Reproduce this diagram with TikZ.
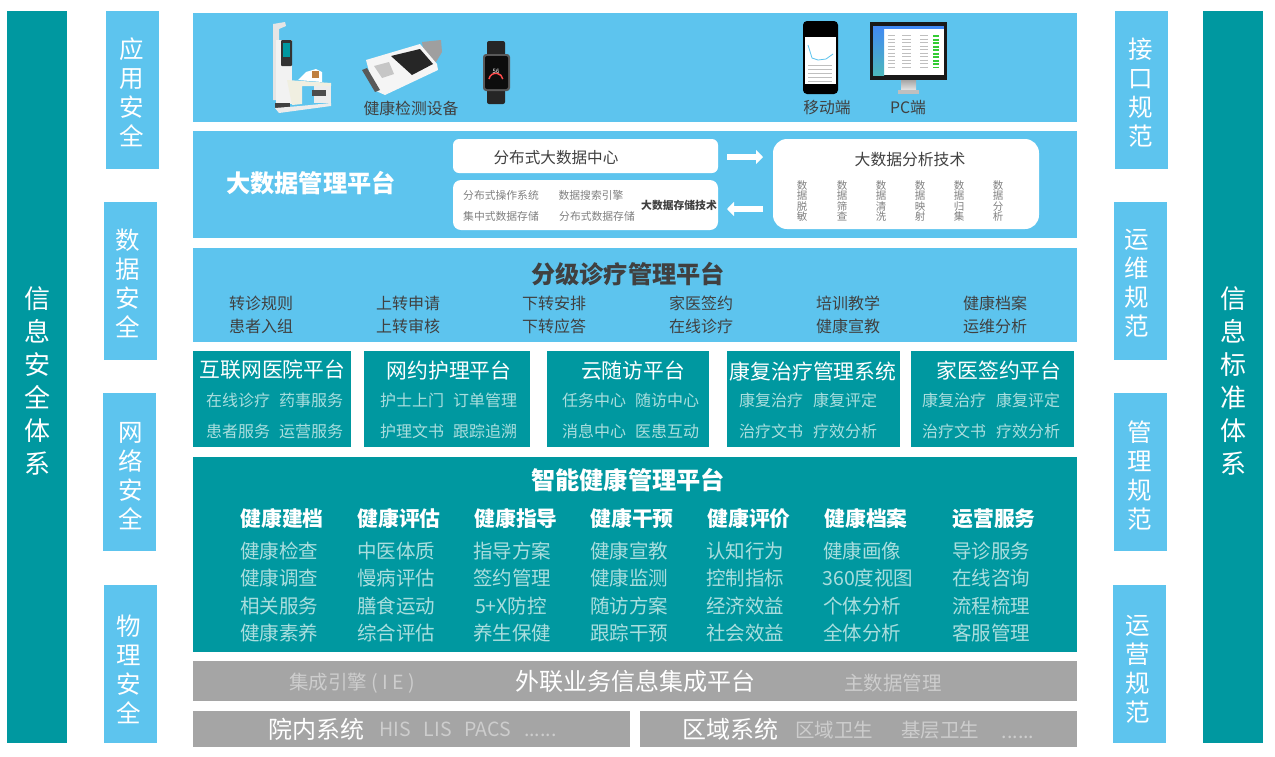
\documentclass[tikz,border=0pt]{standalone}
\usepackage{fontspec}
\setmainfont{Noto Sans CJK SC}
\usepackage{xcolor}
\usetikzlibrary{arrows.meta}
\definecolor{skycolor}{RGB}{93,196,238}
\definecolor{tealcolor}{RGB}{0,152,160}
\definecolor{greycolor}{RGB}{165,165,165}
\definecolor{inkcolor}{RGB}{64,64,64}
\definecolor{palecolor}{RGB}{170,222,222}
\definecolor{fadecolor}{RGB}{205,205,205}
\newcommand{\px}[1]{\fontsize{#1}{#1}\selectfont}

\begin{document}
\begin{tikzpicture}[
    x=1pt,
    y=-1pt,
    band/.style={inner sep=0pt, outer sep=0pt, text=white},
    skyband/.style={band, fill=skycolor},
    tealband/.style={band, fill=tealcolor},
    greyband/.style={band, fill=greycolor},
    sidecol/.style={tealband, minimum width=60pt, minimum height=732pt},
    sidetext/.style={inner sep=0pt, text=white, align=center, font=\fontsize{26}{33}\selectfont},
    guard/.style={skyband, minimum width=53pt, minimum height=158pt},
    guardtext/.style={inner sep=0pt, text=white, align=center, font=\fontsize{24.5}{29}\selectfont},
    whitebox/.style={fill=white, inner sep=0pt, outer sep=0pt},
    maintitle/.style={inner sep=0pt, text=white, font=\px{24.2}\bfseries},
    skytitle/.style={inner sep=0pt, text=inkcolor, font=\px{24.2}\bfseries},
    skyitem/.style={inner sep=0pt, text=inkcolor, font=\px{16}},
    devlabel/.style={inner sep=0pt, text=inkcolor, font=\px{15.8}},
    smalltitle/.style={inner sep=0pt, text=white, font=\px{20.8}},
    smallitem/.style={inner sep=0pt, text=palecolor, font=\px{16}},
    gridhead/.style={inner sep=0pt, text=white, font=\px{20.8}\bfseries},
    griditem/.style={inner sep=0pt, text=palecolor, font=\px{19.5}},
    storeitem/.style={inner sep=0pt, text=gray, font=\px{10.8}},
    stepitem/.style={inner sep=0pt, text=gray, align=center, font=\fontsize{10.5}{10.5}\selectfont},
    greytitle/.style={inner sep=0pt, text=white, font=\px{24}},
    greyitem/.style={inner sep=0pt, text=fadecolor, font=\px{19.5}},
    flowarrow/.style={draw=white, line width=6pt, -{Triangle[length=7pt, width=14pt]}}
]
    \useasboundingbox (0,0) rectangle (1275,756);

    % Outer columns
    \node[sidecol] (secsys) at (37,377) {};
    \node[sidetext] (secsystext) at (37,381) {信\\息\\安\\全\\体\\系};
    \node[sidecol] (stdsys) at (1233,377) {};
    \node[sidetext] (stdsystext) at (1233,381) {信\\息\\标\\准\\体\\系};

    % Security columns
    \node[guard] (appsec) at (132,89.5) {};
    \node[guardtext] (appsectext) at (132,92.5) {应\\用\\安\\全};
    \node[guard] (datasec) at (130.5,281) {};
    \node[guardtext] (datasectext) at (128,283.5) {数\\据\\安\\全};
    \node[guard] (netsec) at (129.5,472) {};
    \node[guardtext] (netsectext) at (131,476) {网\\络\\安\\全};
    \node[guard] (physec) at (130.5,664) {};
    \node[guardtext] (physectext) at (129,669) {物\\理\\安\\全};

    % Norm columns
    \node[guard] (ifnorm) at (1141.5,89.5) {};
    \node[guardtext] (ifnormtext) at (1141,92.5) {接\\口\\规\\范};
    \node[guard] (opnorm) at (1140,281) {};
    \node[guardtext] (opnormtext) at (1137,283.5) {运\\维\\规\\范};
    \node[guard] (mgnorm) at (1140,472) {};
    \node[guardtext] (mgnormtext) at (1140,476) {管\\理\\规\\范};
    \node[guard] (runnorm) at (1139.5,664) {};
    \node[guardtext] (runnormtext) at (1138,669) {运\\营\\规\\范};

    % Device layer
    \node[skyband, minimum width=884pt, minimum height=109pt] (device) at (635,67.5) {};
    \node[devlabel] (devtext) at (411,108) {健康检测设备};
    \node[devlabel] (mobtext) at (827,108) {移动端};
    \node[devlabel] (pctext) at (908,108) {PC端};

    % Kiosk
    \fill[gray!20] (273,24) -- (285,22) -- (286,26) -- (279,29) -- (279,100) -- (273,100) -- cycle;
    \fill[gray!10] (276,40) rectangle (292,104);
    \fill[black!80, rounded corners=1pt] (281,40) rectangle (292,66);
    \fill[tealcolor] (283,43) rectangle (290,57);
    \fill[white] (298,80) -- (306,72) -- (316,69) -- (322,72) -- (322,82) -- cycle;
    \fill[orange!50!gray] (312,71) rectangle (319,78);
    \fill[yellow!30!gray!20] (287,80) -- (331,83) -- (331,86) -- (302,86) -- (302,104) -- (292,105) -- cycle;
    \fill[gray!15] (314,86) rectangle (331,103);
    \fill[gray!60!black] (312,90) rectangle (326,96);
    \fill[black!75] (275,103) rectangle (290,108);
    \fill[gray!15] (275,108) -- (300,106) -- (331,103) -- (331,106) -- (279,113) -- cycle;

    % Monitor device
    \fill[gray!75] (422,42) -- (441,40) -- (442,52) -- (436,62) -- (425,60) -- cycle;
    \fill[gray!8] (366,60) -- (420,44) -- (437,64) -- (438,70) -- (385,95) -- (374,90) -- cycle;
    \fill[black!85] (391,56) -- (420,49) -- (433,64) -- (412,75) -- cycle;
    \fill[gray!45] (374,66) -- (389,62) -- (394,74) -- (382,78) -- cycle;
    \fill[black!65] (362,70) -- (367,68) -- (380,90) -- (375,92) -- cycle;

    % Watch
    \fill[black!85, rounded corners=2pt] (487,41) rectangle (505,104);
    \fill[gray!70!black, rounded corners=3pt] (483,54) rectangle (510,91);
    \fill[black!95, rounded corners=2pt] (485,56) rectangle (508,89);
    \draw[red!70!white, line width=1.5pt] (489,79) arc[start angle=190, end angle=350, x radius=7pt, y radius=-7pt];
    \node[inner sep=0pt, text=white, font=\px{6}] (watchtime) at (496,71) {56};

    % Phone
    \fill[black, rounded corners=4pt] (803,21) rectangle (838,94);
    \fill[white] (805,37) rectangle (836,84);
    \draw[skycolor, thick] (808,45) -- (812,58) -- (818,60) -- (826,59) -- (833,54);
    \draw[gray!50, line width=24pt, dash pattern=on 1pt off 3pt] (820,65) -- (820,83);

    % PC
    \fill[black!90] (870,22) rectangle (947,80);
    \fill[white] (873,26) rectangle (944,75);
    \shade[top color=skycolor!70!blue, bottom color=tealcolor!70] (873,26) rectangle (884,75);
    \fill[skycolor!70!blue] (873,26) rectangle (944,29);
    \draw[gray!50, line width=7pt, dash pattern=on 1pt off 2.5pt] (891,35) -- (891,67);
    \draw[gray!50, line width=9pt, dash pattern=on 1pt off 2.5pt] (906,35) -- (906,67);
    \draw[gray!50, line width=8pt, dash pattern=on 1pt off 2.5pt] (924,35) -- (924,67);
    \draw[green!60!gray, line width=6pt, dash pattern=on 2pt off 1.5pt] (936,35) -- (936,67);
    \shade[top color=gray!70, bottom color=gray!20] (901,80) rectangle (916,90);
    \fill[gray!50] (898,90) rectangle (919,94);

    % Big data layer
    \node[skyband, minimum width=884pt, minimum height=107pt] (bigdata) at (635,184.5) {};
    \node[maintitle] (bigtitle) at (311,183) {大数据管理平台};
    \node[whitebox, rounded corners=6pt, minimum width=265pt, minimum height=34pt] (center) at (585.5,156) {};
    \node[whitebox, rounded corners=8pt, minimum width=265pt, minimum height=50pt] (store) at (585.5,205) {};
    \node[whitebox, rounded corners=14pt, minimum width=266pt, minimum height=90pt] (analysis) at (906,184) {};
    \node[inner sep=0pt, text=inkcolor, font=\px{15.6}] (centertext) at (556,158) {分布式大数据中心};
    \node[storeitem] (osys) at (501,195) {分布式操作系统};
    \node[storeitem] (engine) at (591,195) {数据搜索引擎};
    \node[storeitem] (central) at (501,216) {集中式数据存储};
    \node[storeitem] (spread) at (597,216) {分布式数据存储};
    \node[inner sep=0pt, text=inkcolor, font=\px{10.8}\bfseries] (storetech) at (679,205) {大数据存储技术};
    \node[inner sep=0pt, text=inkcolor, font=\px{15.8}] (anatext) at (910,160) {大数据分析技术};
    \node[stepitem] (mask) at (802,201) {数\\据\\脱\\敏};
    \node[stepitem] (screen) at (842,201) {数\\据\\筛\\查};
    \node[stepitem] (clean) at (881,201) {数\\据\\清\\洗};
    \node[stepitem] (mapping) at (920,201) {数\\据\\映\\射};
    \node[stepitem] (collect) at (959,201) {数\\据\\归\\集};
    \node[stepitem] (analyse) at (998,201) {数\\据\\分\\析};
    \draw[flowarrow, shorten <=9pt, shorten >=10pt] ([yshift=-1pt]center.east) -- ([yshift=-1pt]center.east -| analysis.west);
    \draw[flowarrow, shorten <=10pt, shorten >=9pt] ([yshift=-4pt]store.east -| analysis.west) -- ([yshift=-4pt]store.east);

    % Tiered care layer
    \node[skyband, minimum width=884pt, minimum height=94pt] (tiered) at (635,295) {};
    \node[skytitle] (tieredtitle) at (628,274) {分级诊疗管理平台};
    \node[skyitem] (ta1) at (261,303) {转诊规则};
    \node[skyitem] (ta2) at (408,303) {上转申请};
    \node[skyitem] (ta3) at (554,303) {下转安排};
    \node[skyitem] (ta4) at (701,303) {家医签约};
    \node[skyitem] (ta5) at (848,303) {培训教学};
    \node[skyitem] (ta6) at (995,303) {健康档案};
    \node[skyitem] (tb1) at (261,326) {患者入组};
    \node[skyitem] (tb2) at (408,326) {上转审核};
    \node[skyitem] (tb3) at (554,326) {下转应答};
    \node[skyitem] (tb4) at (701,326) {在线诊疗};
    \node[skyitem] (tb5) at (848,326) {健康宣教};
    \node[skyitem] (tb6) at (995,326) {运维分析};

    % Platform boxes
    \node[tealband, minimum width=158pt, minimum height=96pt] (hospital) at (272,399) {};
    \node[smalltitle] (hospitaltitle) at (272.5,370) {互联网医院平台};
    \node[smallitem] (ha1) at (238,400) {在线诊疗};
    \node[smallitem] (ha2) at (311,400) {药事服务};
    \node[smallitem] (hb1) at (238,431) {患者服务};
    \node[smallitem] (hb2) at (311,431) {运营服务};

    \node[tealband, minimum width=166pt, minimum height=96pt] (nursing) at (447,399) {};
    \node[smalltitle] (nursingtitle) at (449,371) {网约护理平台};
    \node[smallitem] (na1) at (412,400) {护士上门};
    \node[smallitem] (na2) at (485,400) {订单管理};
    \node[smallitem] (nb1) at (412,431) {护理文书};
    \node[smallitem] (nb2) at (485,431) {跟踪追溯};

    \node[tealband, minimum width=162pt, minimum height=96pt] (followup) at (628,399) {};
    \node[smalltitle] (followuptitle) at (633,371) {云随访平台};
    \node[smallitem] (fa1) at (594,400) {任务中心};
    \node[smallitem] (fa2) at (667,400) {随访中心};
    \node[smallitem] (fb1) at (594,431) {消息中心};
    \node[smallitem] (fb2) at (667,431) {医患互动};

    \node[tealband, minimum width=173pt, minimum height=96pt] (rehab) at (813.5,399) {};
    \node[smalltitle] (rehabtitle) at (813,371) {康复治疗管理系统};
    \node[smallitem] (ra1) at (771,400) {康复治疗};
    \node[smallitem] (ra2) at (845,400) {康复评定};
    \node[smallitem] (rb1) at (771,431) {治疗文书};
    \node[smallitem] (rb2) at (845,431) {疗效分析};

    \node[tealband, minimum width=163pt, minimum height=96pt] (family) at (992.5,399) {};
    \node[smalltitle] (familytitle) at (999,371) {家医签约平台};
    \node[smallitem] (ga1) at (954,400) {康复治疗};
    \node[smallitem] (ga2) at (1028,400) {康复评定};
    \node[smallitem] (gb1) at (954,431) {治疗文书};
    \node[smallitem] (gb2) at (1028,431) {疗效分析};

    % Smart health layer
    \node[tealband, minimum width=884pt, minimum height=195pt] (smart) at (635,554.5) {};
    \node[maintitle] (smarttitle) at (628,480) {智能健康管理平台};
    \node[gridhead] (col1) at (282,519) {健康建档};
    \node[griditem] (c1a) at (279,551) {健康检查};
    \node[griditem] (c1b) at (279,578) {健康调查};
    \node[griditem] (c1c) at (279,606) {相关服务};
    \node[griditem] (c1d) at (279,633) {健康素养};
    \node[gridhead] (col2) at (399,519) {健康评估};
    \node[griditem] (c2a) at (396,551) {中医体质};
    \node[griditem] (c2b) at (396,578) {慢病评估};
    \node[griditem] (c2c) at (396,606) {膳食运动};
    \node[griditem] (c2d) at (396,633) {综合评估};
    \node[gridhead] (col3) at (516,519) {健康指导};
    \node[griditem] (c3a) at (512,551) {指导方案};
    \node[griditem] (c3b) at (512,578) {签约管理};
    \node[griditem] (c3c) at (511,606) {5+X防控};
    \node[griditem] (c3d) at (512,633) {养生保健};
    \node[gridhead] (col4) at (632,519) {健康干预};
    \node[griditem] (c4a) at (629,551) {健康宣教};
    \node[griditem] (c4b) at (629,578) {健康监测};
    \node[griditem] (c4c) at (629,606) {随访方案};
    \node[griditem] (c4d) at (629,633) {跟踪干预};
    \node[gridhead] (col5) at (749,519) {健康评价};
    \node[griditem] (c5a) at (745,551) {认知行为};
    \node[griditem] (c5b) at (745,578) {控制指标};
    \node[griditem] (c5c) at (745,606) {经济效益};
    \node[griditem] (c5d) at (745,633) {社会效益};
    \node[gridhead] (col6) at (866,519) {健康档案};
    \node[griditem] (c6a) at (862,551) {健康画像};
    \node[griditem] (c6b) at (868,578) {360度视图};
    \node[griditem] (c6c) at (862,606) {个体分析};
    \node[griditem] (c6d) at (862,633) {全体分析};
    \node[gridhead] (col7) at (994,519) {运营服务};
    \node[griditem] (c7a) at (991,551) {导诊服务};
    \node[griditem] (c7b) at (991,578) {在线咨询};
    \node[griditem] (c7c) at (991,606) {流程梳理};
    \node[griditem] (c7d) at (991,633) {客服管理};

    % Integration layer
    \node[greyband, minimum width=884pt, minimum height=40pt] (integrate) at (635,681) {};
    \node[greytitle] (integratetitle) at (635,681) {外联业务信息集成平台};
    \node[greyitem] (engineie) at (352,683) {集成引擎 ( I E )};
    \node[greyitem] (masterdata) at (893,683) {主数据管理};

    % Source systems
    \node[greyband, minimum width=437pt, minimum height=36pt] (inner) at (411.5,729) {};
    \node[greytitle] (innertitle) at (316,729) {院内系统};
    \node[greyitem, anchor=west] (innerlist) at (379,729) {HIS\hspace{13pt}LIS\hspace{13pt}PACS\hspace{13pt}......};
    \node[greyband, minimum width=437pt, minimum height=36pt] (region) at (858.5,729) {};
    \node[greytitle] (regiontitle) at (730,729) {区域系统};
    \node[greyitem] (regionhealth) at (834,730) {区域卫生};
    \node[greyitem] (primaryhealth) at (940,730) {基层卫生};
    \node[greyitem] (regiondots) at (1018,737) {......};
\end{tikzpicture}
\end{document}
